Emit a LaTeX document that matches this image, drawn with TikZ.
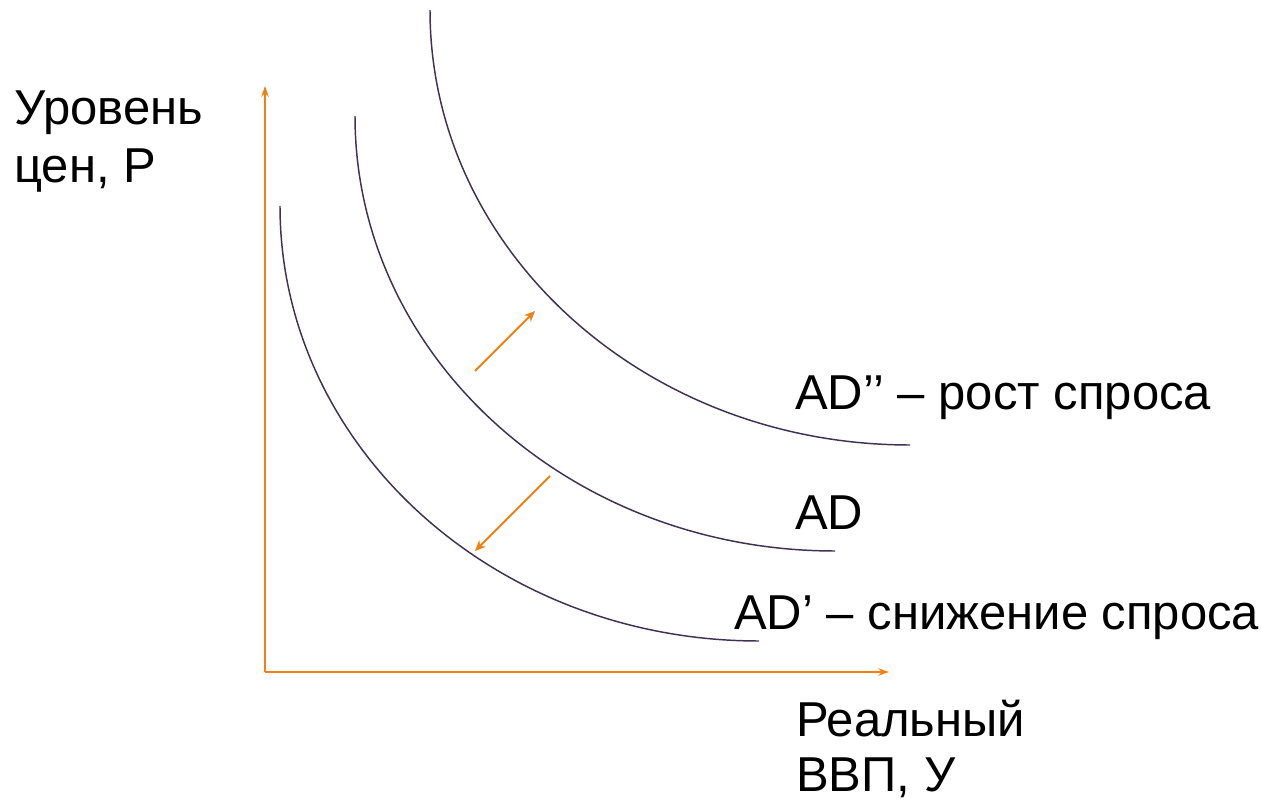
\documentclass[tikz,border=0pt]{standalone}
\usepackage{fontspec}
\setmainfont{Liberation Sans}
\usetikzlibrary{arrows.meta}
\definecolor{axisorange}{RGB}{240,128,16}
\definecolor{curvepurple}{RGB}{64,49,84}
\begin{document}
\begin{tikzpicture}[x=0.75pt,y=0.75pt,
        axis/.style={draw=axisorange, line width=1.4pt, -{Stealth[length=8pt,width=5.5pt]}},
        shiftarrow/.style={draw=axisorange, line width=1.4pt, -{Stealth[length=8pt,width=7pt]}},
        adcurve/.style={draw=curvepurple, line width=1.1pt},
        lab/.style={anchor=base west, inner sep=0pt, font=\fontsize{36.75}{44}\selectfont}]
        \useasboundingbox (0,0) rectangle (1261,803);
        % axes
        \coordinate (O) at (265,131);
        \coordinate (ytip) at (265,717);
        \coordinate (xtip) at (889,131);
        \draw[axis] (O) -- (ytip);
        \draw[axis] (O) -- (xtip);
        \node[lab] (pricelab) at (14,678) {Уровень};
        \node[lab] (pricelab2) at (14,620) {цен, Р};
        \node[lab] (gdplab) at (796,66) {Реальный};
        \node[lab] (gdplab2) at (796,11) {ВВП, У};
        % demand curves
        \coordinate (adlow) at (280,597);
        \coordinate (admid) at (355,687);
        \coordinate (adhigh) at (430,793);
        \draw[adcurve] (adlow) arc[start angle=180, end angle=270, x radius=359.25pt, y radius=326.25pt];
        \draw[adcurve] (admid) arc[start angle=180, end angle=270, x radius=360pt, y radius=326.25pt];
        \draw[adcurve] (adhigh) arc[start angle=180, end angle=270, x radius=360pt, y radius=326.25pt];
        \node[lab] (adhighlab) at (795,393) {AD’’ – рост спроса};
        \node[lab] (admidlab) at (795,273) {AD};
        \node[lab] (adlowlab) at (734,173) {AD’ – снижение спроса};
        % shifts
        \coordinate (upfrom) at (475,432);
        \coordinate (upto) at (535,492);
        \coordinate (downfrom) at (550,327);
        \coordinate (downto) at (475,252);
        \draw[shiftarrow] (upfrom) -- (upto);
        \draw[shiftarrow] (downfrom) -- (downto);
    \end{tikzpicture}
\end{document}
